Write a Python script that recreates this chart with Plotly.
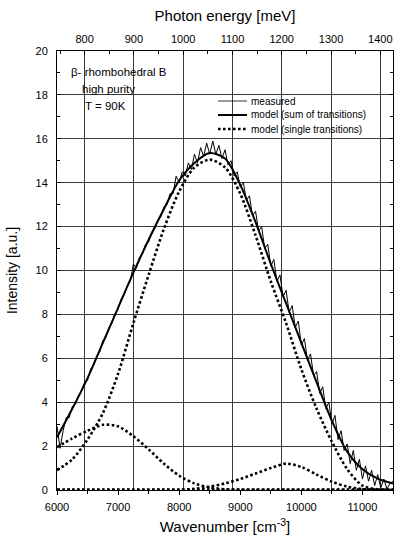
import plotly.graph_objects as go

CM_PER_MEV = 8.06554

# ---- data ----
model_wavenumber = list(range(6000, 11501, 250))
model_sum = [2.4, 3.7, 5.1, 6.7, 8.3, 9.9, 11.4, 12.8, 14.1, 14.9, 15.35, 15.1,
             13.9, 12.2, 10.3, 8.5, 6.7, 4.9, 3.15, 1.75, 0.95, 0.52, 0.3]
transition_1 = [1.95, 2.35, 2.7, 2.97, 2.9, 2.45, 1.85, 1.2, 0.65, 0.3, 0.12, 0.03,
                0, 0, 0, 0, 0, 0, 0, 0, 0, 0, 0]
transition_2 = [0.9, 1.4, 2.3, 3.5, 5.3, 7.6, 9.8, 11.9, 13.6, 14.7, 15.05, 14.7,
                13.5, 11.6, 9.5, 7.6, 5.5, 3.7, 2.2, 0.95, 0.2, 0.03, 0.0]
transition_3 = [0, 0, 0, 0, 0, 0, 0, 0, 0, 0.05, 0.15, 0.3,
                0.5, 0.75, 1.0, 1.2, 1.05, 0.7, 0.38, 0.15, 0.04, 0.01, 0]
transition_4 = [0.02] * 23

measured_wavenumber = list(range(6000, 11501, 50))
measured = [
    2.9, 1.9, 2.7, 3.3, 3.3, 3.8, 3.9, 4.3, 4.5, 4.9,
    5.0, 5.5, 5.7, 6.1, 6.3, 6.8, 6.95, 7.4, 7.6, 8.05,
    8.25, 8.7, 8.9, 9.3, 9.5, 10.3, 10.1, 10.6, 10.75, 11.2,
    11.3, 11.75, 11.9, 12.3, 12.45, 12.9, 13.0, 13.5, 13.5, 14.3,
    14.0, 14.5, 14.3, 14.9, 14.6, 15.3, 14.9, 15.6, 15.2, 15.8,
    15.3, 15.9, 15.3, 15.7, 15.1, 15.5, 14.8, 15.0, 14.3, 14.5,
    13.8, 14.0, 13.2, 13.4, 12.5, 12.7, 11.8, 12.0, 11.0, 11.2,
    10.2, 10.5, 9.5, 9.8, 8.8, 9.1, 8.1, 8.4, 7.4, 7.7,
    6.6, 6.9, 5.9, 6.2, 5.2, 5.4, 4.4, 4.7, 3.7, 4.0,
    3.0, 3.4, 2.3, 2.7, 1.8, 2.1, 1.2, 1.8, 0.9, 1.4,
    0.5, 1.1, 0.4, 0.9, 0.2, 0.7, 0.1, 0.5, 0.05, 0.3,
    0.4,
]

legend_labels = ["measured", "model (sum of transitions)", "model (single transitions)"]
sample_labels = ["\u03b2- rhombohedral B", "high purity", "T = 90K"]

x_range = [6000, 11500]
y_range = [0, 20]
energy_ticks = [800, 900, 1000, 1100, 1200, 1300, 1400]

FONT = "Liberation Sans, Arial, sans-serif"

# plot-area geometry in pixels (for paper-coordinate placement of text/legend)
PL, PR, PT, PB = 57, 393, 51, 490


def px_to_paper(px, py):
    return (px - PL) / (PR - PL), (PB - py) / (PB - PT)


fig = go.Figure()

dot_style = dict(color="black", width=2.6, dash="2.6px,2.4px")
for tr in [transition_1, transition_2, transition_3, transition_4]:
    fig.add_trace(go.Scatter(
        x=model_wavenumber, y=tr, mode="lines", line=dot_style,
        line_shape="spline", line_smoothing=0.8,
        name=legend_labels[2], showlegend=False, hoverinfo="skip"))

fig.add_trace(go.Scatter(
    x=model_wavenumber, y=model_sum, mode="lines",
    line=dict(color="black", width=2), line_shape="spline", line_smoothing=0.8,
    name=legend_labels[1], showlegend=False))

fig.add_trace(go.Scatter(
    x=measured_wavenumber, y=measured, mode="lines",
    line=dict(color="black", width=1),
    name=legend_labels[0], showlegend=False))

# invisible trace to anchor the top (photon energy) axis
fig.add_trace(go.Scatter(
    x=[w / CM_PER_MEV for w in model_wavenumber], y=model_sum, xaxis="x2",
    mode="lines", line=dict(color="rgba(0,0,0,0)"), showlegend=False,
    hoverinfo="skip"))

fig.update_layout(
    width=397, height=543,
    margin=dict(l=PL, r=397 - PR, t=PT, b=543 - PB),
    paper_bgcolor="white", plot_bgcolor="white",
    font=dict(family=FONT, color="black", size=11),
    showlegend=False,
    xaxis=dict(
        range=x_range, dtick=1000, tickformat="d", showgrid=False, zeroline=False,
        showline=True, linecolor="black", linewidth=1,
        ticks="outside", ticklen=4, tickcolor="black", ticklabelstandoff=3,
        minor=dict(dtick=500, ticks="outside", ticklen=3, tickcolor="black"),
        tickfont=dict(size=11),
        title=dict(text="Wavenumber [cm<sup>-3</sup>]", font=dict(size=15), standoff=9),
    ),
    xaxis2=dict(
        overlaying="x", side="top",
        range=[x_range[0] / CM_PER_MEV, x_range[1] / CM_PER_MEV],
        tickvals=energy_ticks, tickformat="d",
        showgrid=True, gridcolor="#3a3a3a", gridwidth=1,
        zeroline=False, showline=True, linecolor="black", linewidth=1,
        ticks="inside", ticklen=4, tickcolor="black", ticklabelstandoff=3,
        minor=dict(dtick=50, ticks="inside", ticklen=3, tickcolor="black", showgrid=False),
        tickfont=dict(size=11),
        title=dict(text="Photon energy [meV]", font=dict(size=15), standoff=7),
    ),
    yaxis=dict(
        range=y_range, dtick=2, showgrid=True, gridcolor="#3a3a3a", gridwidth=1,
        zeroline=False, showline=True, linecolor="black", linewidth=1,
        mirror="ticks", ticks="inside", ticklen=4, tickcolor="black",
        ticklabelstandoff=6,
        minor=dict(dtick=1, ticks="inside", ticklen=3, tickcolor="black", showgrid=False),
        tickfont=dict(size=11),
        title=dict(text="Intensity [a.u.]", font=dict(size=14), standoff=14),
    ),
)

# sample description text
for text, (cx, cy) in zip(sample_labels, [(119, 72), (108, 89), (105, 106)]):
    px, py = px_to_paper(cx, cy)
    fig.add_annotation(
        x=px, y=py, xref="paper", yref="paper",
        text=text, showarrow=False, font=dict(size=11.5, family=FONT),
        xanchor="center", yanchor="middle")

# hand-built legend (compact, as in the reference)
legend_styles = [
    dict(color="black", width=0.8),
    dict(color="black", width=2),
    dict(color="black", width=2.6, dash="2.6px,2.4px"),
]
for label, style, cy in zip(legend_labels, legend_styles, [101, 115, 129]):
    x0, y0 = px_to_paper(218, cy)
    x1, _ = px_to_paper(247, cy)
    xt, _ = px_to_paper(249, cy)
    fig.add_shape(type="line", xref="paper", yref="paper",
                  x0=x0, x1=x1, y0=y0, y1=y0, line=style)
    fig.add_annotation(x=xt, y=y0, xref="paper", yref="paper", text=label,
                       showarrow=False, xanchor="left", yanchor="middle",
                       font=dict(size=10, family=FONT))

fig.write_html("out.html")
